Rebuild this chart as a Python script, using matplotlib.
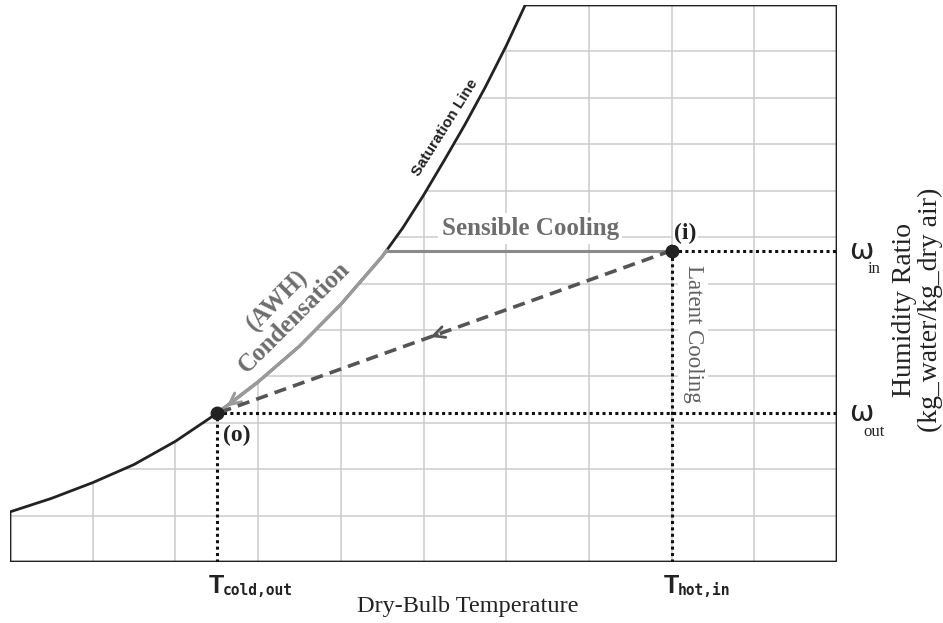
import numpy as np
import matplotlib
matplotlib.use('Agg')
import matplotlib.pyplot as plt
from matplotlib.patches import Polygon

# Saturation line (dry-bulb units, humidity units)
sat_x = [0.0, 0.5, 1.0, 1.5, 2.0, 2.5, 3.0, 3.5, 4.0, 4.5, 4.75, 5.0, 5.25, 5.5, 5.75, 6.0, 6.23]
sat_y = [1.08, 1.37, 1.71, 2.10, 2.60, 3.2, 3.88, 4.65, 5.55, 6.58, 7.2, 7.9, 8.65, 9.42, 10.24, 11.12, 12.0]

# State points
t_cold_out = 2.5
t_hot_in = 8.0
w_out = 3.2
w_in = 6.71

x_max = 10
y_max = 12

serif = 'Liberation Serif'
sans = 'Liberation Sans'

fig = plt.figure(figsize=(9.43, 6.23), dpi=100)
ax = fig.add_axes([10 / 943, 61 / 623, 827 / 943, 557 / 623])
ax.set_xlim(0, x_max)
ax.set_ylim(0, y_max)
ax.axis('off')

# Chart outline: bottom, right, top, then down the saturation line
outline = [(0, 0), (x_max, 0), (x_max, y_max)] + list(zip(sat_x[::-1], sat_y[::-1]))
region = Polygon(outline, closed=True, facecolor='none', edgecolor='#222222',
                 lw=2.0, zorder=3, joinstyle='round')
ax.add_patch(region)

# Grid clipped to the chart region
vl = ax.vlines(np.arange(1, x_max), 0, y_max, color='#cccccc', lw=1.1, zorder=1)
hl = ax.hlines(np.arange(1, y_max), 0, x_max, color='#cccccc', lw=1.1, zorder=1)
vl.set_clip_path(region)
hl.set_clip_path(region)

# Dotted guide lines
dot = dict(color='#111111', lw=2.2, linestyle=(0, (1, 1.1)), zorder=4)
ax.plot([t_cold_out, x_max], [w_out, w_out], **dot)
ax.plot([t_hot_in, x_max], [w_in, w_in], **dot)
ax.plot([t_cold_out, t_cold_out], [0, w_out], **dot)
ax.plot([t_hot_in, t_hot_in], [0, w_in], **dot)

# Sensible cooling: horizontal to the saturation line
x_dew = np.interp(w_in, sat_y, sat_x)
ax.plot([x_dew, t_hot_in], [w_in, w_in], color='#8a8a8a', lw=2.2, zorder=5,
        solid_capstyle='butt')

# Condensation along the saturation line
sx = np.array(sat_x)
sy = np.array(sat_y)
m = (sx > t_cold_out) & (sx < x_dew)
cx = np.concatenate([[t_cold_out], sx[m], [x_dew]])
cy = np.concatenate([[w_out], sy[m], [w_in]])
ax.plot(cx, cy, color='#9a9a9a', lw=2.4, zorder=5, solid_joinstyle='round')
ax.annotate('', xy=(cx[0] + 0.12, cy[0] + 0.15), xytext=(cx[1], cy[1]),
            arrowprops=dict(arrowstyle='->', color='#9a9a9a', lw=2.2,
                            mutation_scale=20, shrinkA=0, shrinkB=0), zorder=5)

# Direct AWH path (dashed) with a mid arrow
ax.plot([t_hot_in, t_cold_out], [w_in, w_out], color='#555555', lw=2.6,
        linestyle=(0, (3.4, 2.0)), zorder=5)
t1, t2 = 0.47, 0.485
p1 = (t_cold_out + t1 * (t_hot_in - t_cold_out), w_out + t1 * (w_in - w_out))
p2 = (t_cold_out + t2 * (t_hot_in - t_cold_out), w_out + t2 * (w_in - w_out))
ax.annotate('', xy=p1, xytext=p2,
            arrowprops=dict(arrowstyle='->', color='#555555', lw=2.0,
                            mutation_scale=20, shrinkA=0, shrinkB=0), zorder=5)

# State points
ax.plot([t_cold_out, t_hot_in], [w_out, w_in], 'o', color='#222222', ms=9, zorder=6)
ax.annotate('(o)', (t_cold_out, w_out), xytext=(14.5, -16), textcoords='offset points',
            ha='center', va='center', family=serif, weight='bold', fontsize=17,
            color='#222222', zorder=7)
ax.annotate('(i)', (t_hot_in, w_in), xytext=(10, 12.5), textcoords='offset points',
            ha='center', va='center', family=serif, weight='bold', fontsize=17,
            color='#222222', zorder=7,
            bbox=dict(boxstyle='square,pad=0.05', fc='white', ec='none'))

# Process labels
ax.text(6.29, 7.18, 'Sensible Cooling', ha='center', va='center', family=serif,
        weight='bold', fontsize=18, color='#6d6d6d', zorder=7,
        bbox=dict(boxstyle='square,pad=0.15', fc='white', ec='none'))
ax.text(8.26, 4.91, 'Latent Cooling', ha='center', va='center', rotation=-90,
        family=serif, fontsize=16.5, color='#606060', zorder=7,
        bbox=dict(boxstyle='square,pad=0.2', fc='white', ec='none'))
ax.text(3.34, 5.45, '(AWH)\nCondensation', ha='center', va='center', rotation=45,
        rotation_mode='anchor', multialignment='center', linespacing=1.0,
        family=serif, weight='bold', fontsize=18, color='#6d6d6d', zorder=7)
ax.text(5.26, 9.36, 'Saturation Line', ha='center', va='center', rotation=58,
        rotation_mode='anchor', family=sans, weight='bold', fontsize=11,
        color='#222222', zorder=7)

# Temperature markers below the axis
for tx, sub in [(t_cold_out, 'cold,out'), (t_hot_in, 'hot,in')]:
    ax.text(tx, -0.67, 'T', ha='center', va='baseline', family=sans,
            weight='bold', fontsize=18, color='#222222', clip_on=False)
    ax.annotate(sub, (tx, -0.67), xytext=(4.5, -1.5), textcoords='offset points',
                ha='left', va='baseline', family='DejaVu Sans Mono', weight='bold',
                fontsize=10.5, color='#222222', annotation_clip=False)

ax.text(5.53, -0.95, 'Dry-Bulb Temperature', ha='center', va='center',
        family=serif, fontsize=17.5, color='#222222', clip_on=False)

# Humidity ratio markers on the right
for wy, sub in [(w_in, 'in'), (w_out, 'out')]:
    ax.text(10.29, wy, '\u03c9', ha='center', va='center', family='DejaVu Sans',
            fontsize=21, color='#222222', clip_on=False)
    ax.annotate(sub, (10.29, wy), xytext=(9.5, -13.5), textcoords='offset points',
                ha='center', va='center', family=serif, fontsize=12,
                color='#222222', annotation_clip=False)

ax.text(10.97, 5.43, 'Humidity Ratio\n(kg_water/kg_dry air)', ha='center',
        va='center', rotation=90, multialignment='center', linespacing=1.05,
        family=serif, fontsize=20, color='#222222', clip_on=False)

fig.savefig('out.png', dpi=100)
